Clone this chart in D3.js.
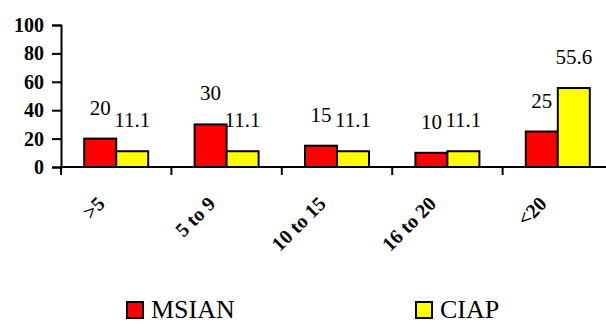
<!DOCTYPE html>
<html>
<head>
<meta charset="utf-8">
<script src="https://cdn.jsdelivr.net/npm/d3@7"></script>
<style>
  html, body { margin: 0; padding: 0; background: #fff; }
  svg { display: block; }
</style>
</head>
<body>
<svg id="chart" width="606" height="324"></svg>
<script>
// Age groups and the share (%) in each, per series
const categories = [">5", "5 to 9", "10 to 15", "16 to 20", "<20"];
const seriesNames = ["MSIAN", "CIAP"];
const msian = [20, 30, 15, 10, 25];
const ciap = [11.1, 11.1, 11.1, 11.1, 55.6];
const yTicks = [0, 20, 40, 60, 80, 100];
const colors = ["#FF0000", "#FFFF00"];

const rows = categories.map((c, i) => ({ cat: c, values: [msian[i], ciap[i]] }));

const svg = d3.select("#chart");
const serif = "'Liberation Serif', 'Times New Roman', serif";

const x0 = 61, x1 = 613, yTop = 25, yBase = 167;

const x = d3.scaleBand().domain(categories).range([x0, x1]).paddingInner(0).paddingOuter(0);
const inner = d3.scaleBand().domain(seriesNames).range([0, 64]);
const groupOffset = (x.bandwidth() - 64) / 2;
const y = d3.scaleLinear().domain([0, 100]).range([yBase, yTop]);

// Bars
const groups = svg.append("g").selectAll("g").data(rows).join("g")
  .attr("transform", d => `translate(${x(d.cat) + groupOffset},0)`);

groups.selectAll("rect").data(d => d.values.map((v, k) => ({ v, k })))
  .join("rect")
  .attr("x", d => inner(seriesNames[d.k]))
  .attr("y", d => y(d.v))
  .attr("width", inner.bandwidth())
  .attr("height", d => y(0) - y(d.v))
  .attr("fill", d => colors[d.k])
  .attr("stroke", "#000")
  .attr("stroke-width", 2);

// Value labels
groups.selectAll("text").data(d => d.values.map((v, k) => ({ v, k })))
  .join("text")
  .attr("x", d => inner(seriesNames[d.k]) + inner.bandwidth() / 2)
  .attr("y", d => y(d.v) - 24)
  .attr("text-anchor", "middle")
  .attr("font-family", serif)
  .attr("font-size", 21)
  .attr("fill", "#000")
  .text(d => d.v);

// Y axis
const yAxis = d3.axisLeft(y).tickValues(yTicks).tickSize(9).tickPadding(8).tickFormat(d3.format("d"));
const yg = svg.append("g").attr("transform", `translate(${x0},0)`).call(yAxis);
yg.select(".domain").attr("stroke", "#000").attr("stroke-width", 2);
yg.selectAll(".tick line").attr("stroke", "#000").attr("stroke-width", 2);
yg.selectAll(".tick text")
  .attr("font-family", serif).attr("font-size", 20).attr("font-weight", "bold").attr("fill", "#000");

// X axis: ticks sit on the category boundaries
const boundaries = d3.range(categories.length + 1).map(i => x0 + i * x.bandwidth());
const xg = svg.append("g");
xg.append("line")
  .attr("x1", x0 - 1).attr("x2", x1).attr("y1", yBase).attr("y2", yBase)
  .attr("stroke", "#000").attr("stroke-width", 2);
xg.selectAll("line.tick").data(boundaries).join("line")
  .attr("class", "tick")
  .attr("x1", d => d).attr("x2", d => d)
  .attr("y1", yBase).attr("y2", yBase + 8)
  .attr("stroke", "#000").attr("stroke-width", 2);

xg.selectAll("text").data(categories).join("text")
  .attr("transform", d => `translate(${x(d) + x.bandwidth() / 2 - 10},${yBase + 38}) rotate(-45)`)
  .attr("text-anchor", "end")
  .attr("font-family", serif)
  .attr("font-size", 20)
  .attr("font-weight", "bold")
  .attr("fill", "#000")
  .text(d => d);

// Legend
const legendX = [127, 416];
const legend = svg.append("g").selectAll("g").data(seriesNames).join("g")
  .attr("transform", (d, i) => `translate(${legendX[i]},302)`);
legend.append("rect")
  .attr("width", 16).attr("height", 16)
  .attr("fill", (d, i) => colors[i])
  .attr("stroke", "#000").attr("stroke-width", 2);
legend.append("text")
  .attr("x", 24).attr("y", 16)
  .attr("font-family", serif)
  .attr("font-size", 26)
  .attr("fill", "#000")
  .text(d => d);
</script>
</body>
</html>
